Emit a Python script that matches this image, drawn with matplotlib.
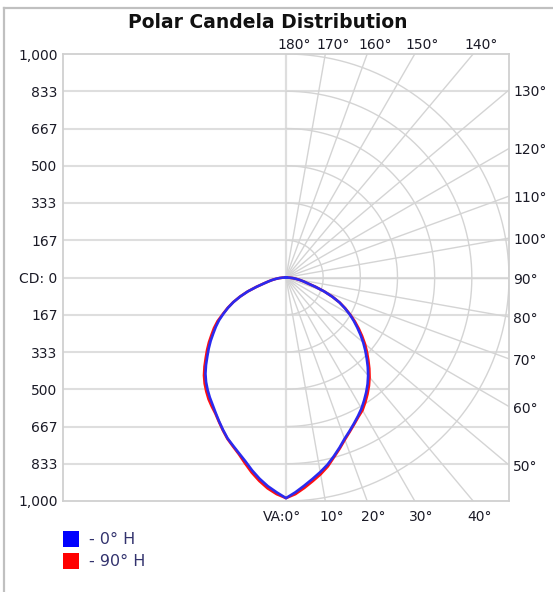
import numpy as np
import matplotlib
matplotlib.use("Agg")
import matplotlib.pyplot as plt
from matplotlib.lines import Line2D

# ---------------- data ----------------
vert_angles = [0, 2.5, 5, 7.5, 10, 12.5, 15, 17.5, 20, 22.5, 25, 27.5, 30, 32.5, 35, 37.5,
               40, 42.5, 45, 47.5, 50, 52.5, 55, 57.5, 60, 62.5, 65, 67.5, 70, 72.5, 75,
               77.5, 80, 82.5, 85, 87.5, 90]
# 0° H plane (right half) and 180° H plane (left half)
cd_0h_right = [985, 962, 935, 909, 884, 858, 828, 798, 768, 744, 721, 699, 677, 652, 627, 601,
               573, 543, 512, 482, 452, 421, 390, 360, 330, 298, 265, 225, 182, 138, 100,
               80, 62, 45, 30, 15, 0]
cd_0h_left = [987, 962, 937, 908, 876, 842, 814, 789, 766, 738, 710, 683, 658, 636, 613, 589,
              562, 531, 499, 470, 441, 411, 384, 356, 324, 293, 260, 222, 182, 138, 102,
              80, 62, 45, 30, 15, 0]
# 90° H plane (right half) and 270° H plane (left half)
cd_90h_right = [985, 970, 945, 919, 894, 866, 832, 802, 772, 747, 724, 703, 686, 662, 637, 611,
                583, 553, 522, 492, 462, 430, 398, 366, 333, 300, 266, 226, 183, 139, 101,
                80, 62, 45, 30, 15, 0]
cd_90h_left = [987, 970, 947, 918, 886, 851, 818, 792, 768, 740, 712, 686, 666, 646, 623, 599,
               572, 541, 509, 480, 451, 421, 394, 364, 327, 295, 261, 223, 183, 139, 103,
               80, 62, 45, 30, 15, 0]

series_names = ["- 0° H", "- 90° H"]
series_colors = ["#2a2af0", "#ff1010"]
legend_colors = ["#0000ff", "#ff0000"]

cd_max = 1000
cd_tick_labels = ["1,000", "833", "667", "500", "333", "167", "CD: 0",
                  "167", "333", "500", "667", "833", "1,000"]
top_angles = [180, 170, 160, 150, 140]
right_angles = [130, 120, 110, 100, 90, 80, 70, 60, 50]
bottom_angles = [0, 10, 20, 30, 40]

# ---------------- figure ----------------
W, H = 553, 592
fig = plt.figure(figsize=(W / 100, H / 100), dpi=100)
fig.patch.set_facecolor("white")

# outer frame (left and top edges)
fig.add_artist(Line2D([4 / W, 4 / W], [0, 1 - 8 / H], color="#c0c0c0", lw=1.6,
                      transform=fig.transFigure))
fig.add_artist(Line2D([4 / W, 1], [1 - 8 / H, 1 - 8 / H], color="#c0c0c0", lw=1.6,
                      transform=fig.transFigure))

left, right, top, bottom = 63, 509, 54, 501
ax = fig.add_axes([left / W, 1 - bottom / H, (right - left) / W, (bottom - top) / H])
ax.set_xlim(-cd_max, cd_max)
ax.set_ylim(-cd_max, cd_max)
for s in ax.spines.values():
    s.set_color("#d0d0d0")
    s.set_linewidth(1.3)

grid_c = "#d4d4d4"
step = cd_max / 6.0
# horizontal lines
for k in range(-5, 6):
    ax.axhline(k * step, color="#dedede", lw=1.5, zorder=1)
ax.axvline(0, color="#dedede", lw=1.6, zorder=1)

# circles (right half)
t = np.radians(np.linspace(0, 180, 361))
for k in range(1, 7):
    r = k * step
    ax.plot(r * np.sin(t), -r * np.cos(t), color=grid_c, lw=1.0, zorder=1)
# radial lines
for a in range(10, 180, 10):
    ar = np.radians(a)
    ax.plot([0, 3000 * np.sin(ar)], [0, -3000 * np.cos(ar)], color=grid_c, lw=1.0, zorder=1)

# curves
va = np.radians(vert_angles)
for right_vals, left_vals, color in [(cd_90h_right, cd_90h_left, series_colors[1]),
                                      (cd_0h_right, cd_0h_left, series_colors[0])]:
    rv = np.array(right_vals, float)
    lv = np.array(left_vals, float)
    xl = -(lv * np.sin(va))[::-1]
    yl = -(lv * np.cos(va))[::-1]
    xr = (rv * np.sin(va))[1:]
    yr = -(rv * np.cos(va))[1:]
    ax.plot(np.concatenate([xl, xr]), np.concatenate([yl, yr]), color=color, lw=1.9,
            zorder=3, solid_joinstyle="round")

# left tick labels
ax.set_yticks([k * step for k in range(6, -7, -1)])
ax.set_yticklabels(cd_tick_labels)
ax.set_xticks([])
ax.tick_params(axis="y", length=0, pad=4, labelsize=10, labelcolor="#1a1a26")

lab_kw = dict(fontsize=10, color="#1a1a26", textcoords="offset points", annotation_clip=False)
px = 72 / 100.0  # points per pixel

for a in top_angles:
    x = cd_max * np.tan(np.radians(180 - a))
    ax.annotate(f"{a}°", xy=(x, cd_max), xytext=(-9 * px, 9 * px), ha="left", va="center", **lab_kw)

for a in right_angles:
    y = cd_max * np.tan(np.radians(a - 90))
    ax.annotate(f"{a}°", xy=(cd_max, y), xytext=(4 * px, -2 * px), ha="left", va="center", **lab_kw)

for a in bottom_angles:
    x = cd_max * np.tan(np.radians(a))
    if a == 0:
        ax.annotate("VA:0°", xy=(x, -cd_max), xytext=(15 * px, -16 * px), ha="right", va="center", **lab_kw)
    else:
        ax.annotate(f"{a}°", xy=(x, -cd_max), xytext=(-6 * px, -16 * px), ha="left", va="center", **lab_kw)

# title
fig.text(268 / W, 1 - 22 / H, "Polar Candela Distribution", ha="center", va="center",
         fontsize=13.5, fontweight="bold", color="#111111")

# legend
for i, (name, color) in enumerate(zip(series_names, legend_colors)):
    yc = 539 + i * 22
    fig.add_artist(plt.Rectangle((63 / W, 1 - (yc + 8) / H), 16 / W, 16 / H,
                                 facecolor=color, edgecolor="none",
                                 transform=fig.transFigure))
    fig.text(89 / W, 1 - yc / H, name, ha="left", va="center", fontsize=11.5, color="#33336e")

fig.savefig("out.png", dpi=100, facecolor="white")
